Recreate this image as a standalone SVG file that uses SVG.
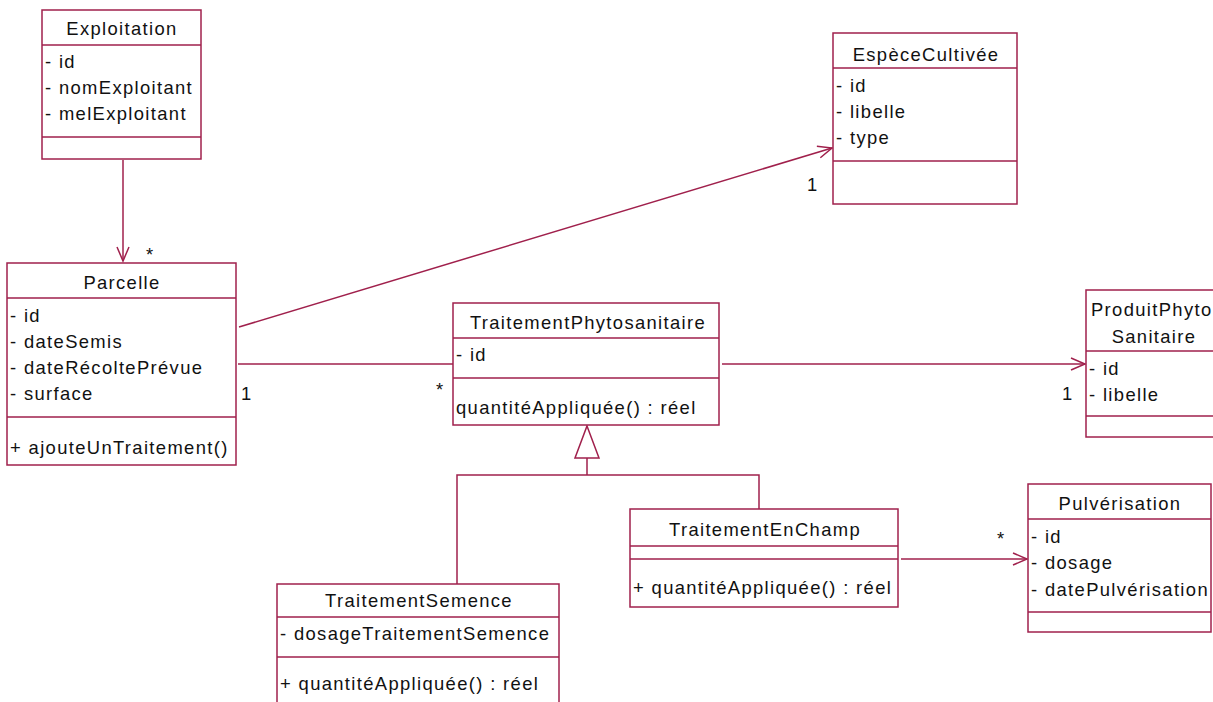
<svg xmlns="http://www.w3.org/2000/svg" width="1213" height="702" viewBox="0 0 1213 702">
<style>
.box{fill:#fff;stroke:#a0204c;stroke-width:1.5}
.ln{fill:none;stroke:#a0204c;stroke-width:1.5}
.t{font-family:"Liberation Sans",Arial,sans-serif;font-size:18.4px;letter-spacing:1.35px;fill:#111}
.c{text-anchor:middle}
</style>
<defs>
<marker id="open" markerUnits="userSpaceOnUse" markerWidth="20" markerHeight="20" viewBox="-16 -10 20 20" refX="0" refY="0" orient="auto">
<path d="M-14,-6 L0,0 L-14,6" fill="none" stroke="#a0204c" stroke-width="1.5"/>
</marker>
</defs>
<rect width="1213" height="702" fill="#fff"/>

<g id="connectors">
<line class="ln" x1="123" y1="160" x2="123" y2="261" marker-end="url(#open)"/>
<line class="ln" x1="239" y1="327" x2="832" y2="148" marker-end="url(#open)"/>
<line class="ln" x1="238" y1="364" x2="453" y2="364"/>
<line class="ln" x1="722" y1="364" x2="1085" y2="364" marker-end="url(#open)"/>
<line class="ln" x1="901" y1="559" x2="1027" y2="559" marker-end="url(#open)"/>
<path class="ln" d="M457,584 V475 H759 V509 M587,475 V458"/>
<path d="M587,426 L599,458 L575,458 Z" fill="#fff" stroke="#a0204c" stroke-width="1.5"/>
<text class="t" x="146" y="261">*</text>
<text class="t" x="241" y="400">1</text>
<text class="t" x="436" y="396">*</text>
<text class="t" x="807" y="191">1</text>
<text class="t" x="1062" y="400">1</text>
<text class="t" x="997" y="545">*</text>
</g>

<g id="Exploitation">
<rect class="box" x="42" y="10" width="159" height="149"/>
<path class="ln" d="M42,45 H201 M42,137 H201"/>
<text class="t c" x="122" y="35">Exploitation</text>
<text class="t" x="45" y="68">- id</text>
<text class="t" x="45" y="94">- nomExploitant</text>
<text class="t" x="45" y="120">- melExploitant</text>
</g>

<g id="Parcelle">
<rect class="box" x="7" y="263" width="229" height="202"/>
<path class="ln" d="M7,298 H236 M7,417 H236"/>
<text class="t c" x="122" y="289">Parcelle</text>
<text class="t" x="10" y="322">- id</text>
<text class="t" x="10" y="348">- dateSemis</text>
<text class="t" x="10" y="374">- dateRécoltePrévue</text>
<text class="t" x="10" y="400">- surface</text>
<text class="t" x="10" y="454">+ ajouteUnTraitement()</text>
</g>

<g id="EspeceCultivee">
<rect class="box" x="833" y="33" width="184" height="171"/>
<path class="ln" d="M833,68 H1017 M833,161 H1017"/>
<text class="t c" x="926" y="61">EspèceCultivée</text>
<text class="t" x="836" y="92">- id</text>
<text class="t" x="836" y="118">- libelle</text>
<text class="t" x="836" y="144">- type</text>
</g>

<g id="TraitementPhytosanitaire">
<rect class="box" x="453" y="303" width="266" height="122"/>
<path class="ln" d="M453,338 H719 M453,378 H719"/>
<text class="t c" x="588" y="329">TraitementPhytosanitaire</text>
<text class="t" x="456" y="361">- id</text>
<text class="t" x="456" y="414">quantitéAppliquée() : réel</text>
</g>

<g id="ProduitPhytoSanitaire">
<rect class="box" x="1086" y="290" width="160" height="147"/>
<path class="ln" d="M1086,351 H1246 M1086,416 H1246"/>
<text class="t" x="1091" y="316">ProduitPhyto</text>
<text class="t c" x="1154" y="343">Sanitaire</text>
<text class="t" x="1089" y="375">- id</text>
<text class="t" x="1089" y="401">- libelle</text>
</g>

<g id="TraitementEnChamp">
<rect class="box" x="630" y="509" width="268" height="98"/>
<path class="ln" d="M630,546 H898 M630,559 H898"/>
<text class="t c" x="765" y="536">TraitementEnChamp</text>
<text class="t" x="633" y="594">+ quantitéAppliquée() : réel</text>
</g>

<g id="Pulverisation">
<rect class="box" x="1028" y="484" width="183" height="148"/>
<path class="ln" d="M1028,519 H1211 M1028,612 H1211"/>
<text class="t c" x="1120" y="510">Pulvérisation</text>
<text class="t" x="1031" y="543">- id</text>
<text class="t" x="1031" y="569">- dosage</text>
<text class="t" x="1031" y="596">- datePulvérisation</text>
</g>

<g id="TraitementSemence">
<rect class="box" x="277" y="584" width="282" height="140"/>
<path class="ln" d="M277,617 H559 M277,657 H559"/>
<text class="t c" x="419" y="607">TraitementSemence</text>
<text class="t" x="280" y="640">- dosageTraitementSemence</text>
<text class="t" x="280" y="690">+ quantitéAppliquée() : réel</text>
</g>
</svg>
